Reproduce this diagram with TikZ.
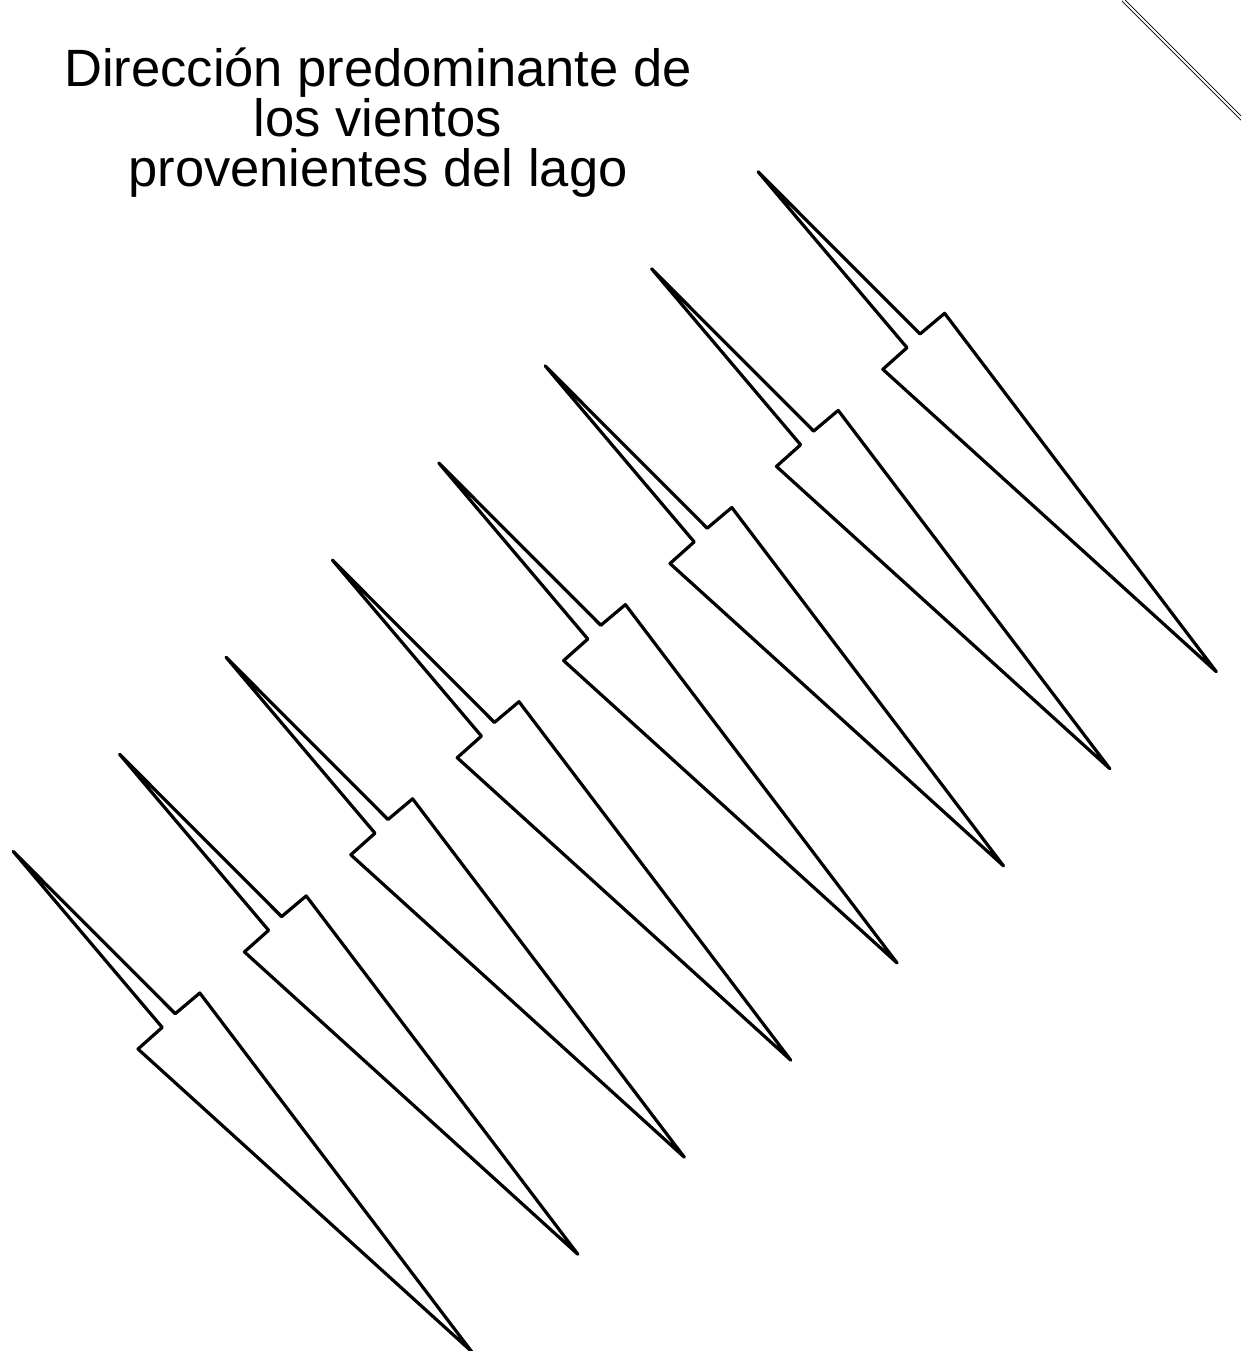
\documentclass[tikz,border=0pt]{standalone}
\usepackage{fontspec}
\setmainfont{Liberation Sans}
\begin{document}
\begin{tikzpicture}[x=1pt,y=-1pt,
  windarrow/.style={draw=black, line width=3.2pt, line join=round},
  rimline/.style={draw=black, double=white, line width=0.9pt, double distance=2pt}]
\useasboundingbox (0,0) rectangle (1241,1351);
\node[inner sep=0pt, anchor=base, align=center, font=\fontsize{52.5}{50}\selectfont] (title) at (378,186)
  {Dirección predominante de\\los vientos\\provenientes del lago};
\foreach \i in {0,...,7} {
  \draw[windarrow, shift={(758-106.4*\i,171.7+97.1*\i)}]
    (0,0) -- (162,162.3) -- (186.6,141.6) -- (458.3,500) -- (124.8,197.6) -- (149,176) -- cycle;
}
\draw[rimline] (1123,0) -- (1260,137);
\end{tikzpicture}
\end{document}
